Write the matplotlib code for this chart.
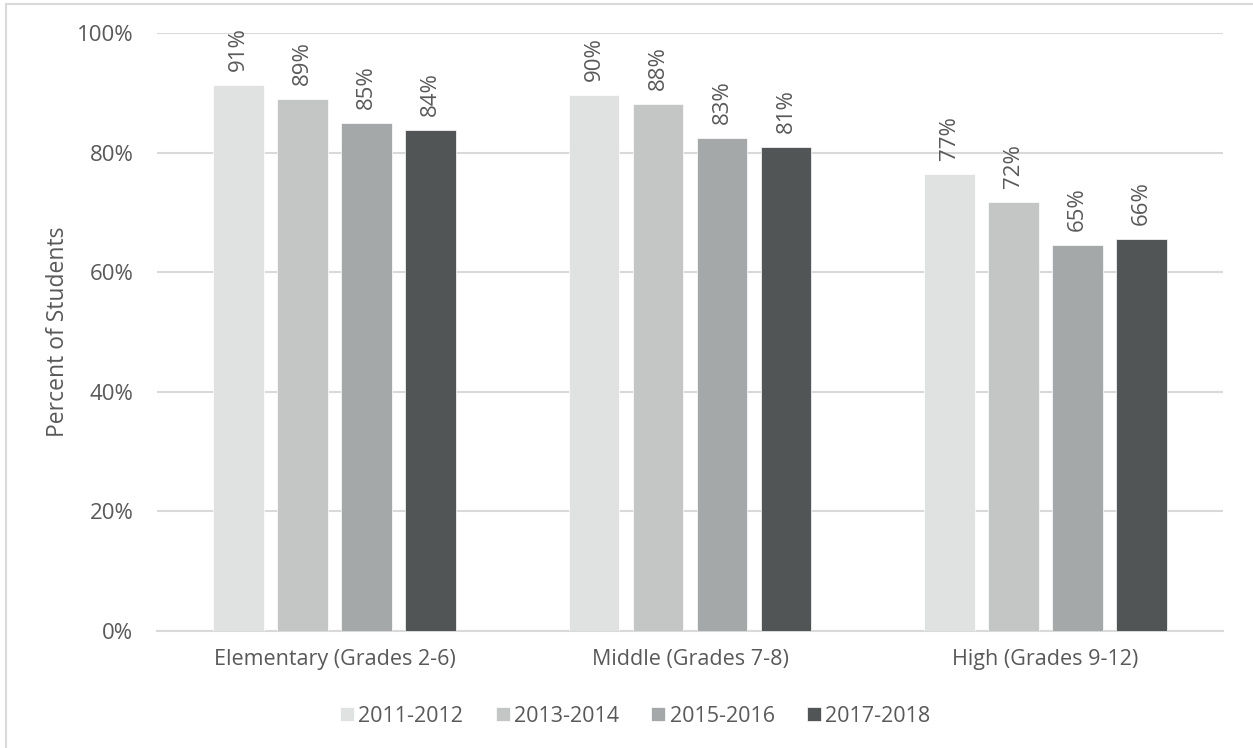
import numpy as np
import matplotlib.pyplot as plt
from matplotlib.patches import Rectangle
from matplotlib.ticker import PercentFormatter

# Данные
categories = ['Elementary (Grades 2-6)', 'Middle (Grades 7-8)', 'High (Grades 9-12)']
years = ['2011-2012', '2013-2014', '2015-2016', '2017-2018']
values = {
    '2011-2012': [91.3, 89.7, 76.5],
    '2013-2014': [89.0, 88.1, 71.7],
    '2015-2016': [84.9, 82.4, 64.6],
    '2017-2018': [83.8, 80.9, 65.6],
}
labels = {
    '2011-2012': ['91%', '90%', '77%'],
    '2013-2014': ['89%', '88%', '72%'],
    '2015-2016': ['85%', '83%', '65%'],
    '2017-2018': ['84%', '81%', '66%'],
}
colors = ['#E0E1E1', '#C4C5C5', '#A5A8A8', '#515556']

text_color = '#595959'
grid_color = '#D9D9D9'
plt.rcParams['font.family'] = ['Open Sans', 'DejaVu Sans']
plt.rcParams['font.size'] = 16

fig = plt.figure(figsize=(12.53, 7.48), dpi=100)
ax = fig.add_axes([157 / 1253, 1 - 631 / 748, 1066 / 1253, 598 / 748])

# рамка диаграммы (обрезана справа и снизу)
fig.patches.append(Rectangle((6 / 1253, -0.1), 1.2, 1 - 4 / 748 + 0.1,
                             transform=fig.transFigure, fill=False,
                             edgecolor='#D9D9D9', lw=1.5))

x = np.arange(len(categories))
width = 0.142
step = 0.18
for i, (year, color) in enumerate(zip(years, colors)):
    pos = x + (i - 1.5) * step
    bars = ax.bar(pos, values[year], width, color=color, label=year,
                  edgecolor='white', linewidth=0.5, zorder=3)
    for b, lab in zip(bars, labels[year]):
        ax.annotate(lab, (b.get_x() + b.get_width() / 2, b.get_height()),
                    xytext=(0, 14), textcoords='offset pixels',
                    rotation=90, ha='center', va='bottom',
                    color=text_color, fontsize=16)

ax.set_xlim(-0.5, 2.5)
ax.set_ylim(0, 100)
ax.set_yticks(np.arange(0, 101, 20))
ax.yaxis.set_major_formatter(PercentFormatter(decimals=0))
ax.set_xticks(x)
ax.set_xticklabels(categories, fontsize=15.5)
ax.yaxis.grid(True, color=grid_color, lw=1.5, zorder=0)
ax.set_axisbelow(True)
for s in ['top', 'right', 'left']:
    ax.spines[s].set_visible(False)
ax.spines['bottom'].set_color(grid_color)
ax.spines['bottom'].set_linewidth(1.5)
ax.tick_params(axis='y', length=0, pad=17, colors=text_color, labelsize=16)
ax.tick_params(axis='x', length=0, pad=13, colors=text_color)
ax.set_ylabel('Percent of Students', color=text_color, fontsize=16.5)
ax.yaxis.set_label_coords(-87 / 1066, 0.5)

fig.legend(loc='center', bbox_to_anchor=(0.507, 1 - 716 / 748), ncol=4,
           frameon=False, fontsize=15.5, labelcolor=text_color,
           handlelength=0.65, handleheight=0.65, handletextpad=0.2,
           columnspacing=1.5)

fig.savefig('out.png', dpi=100)
